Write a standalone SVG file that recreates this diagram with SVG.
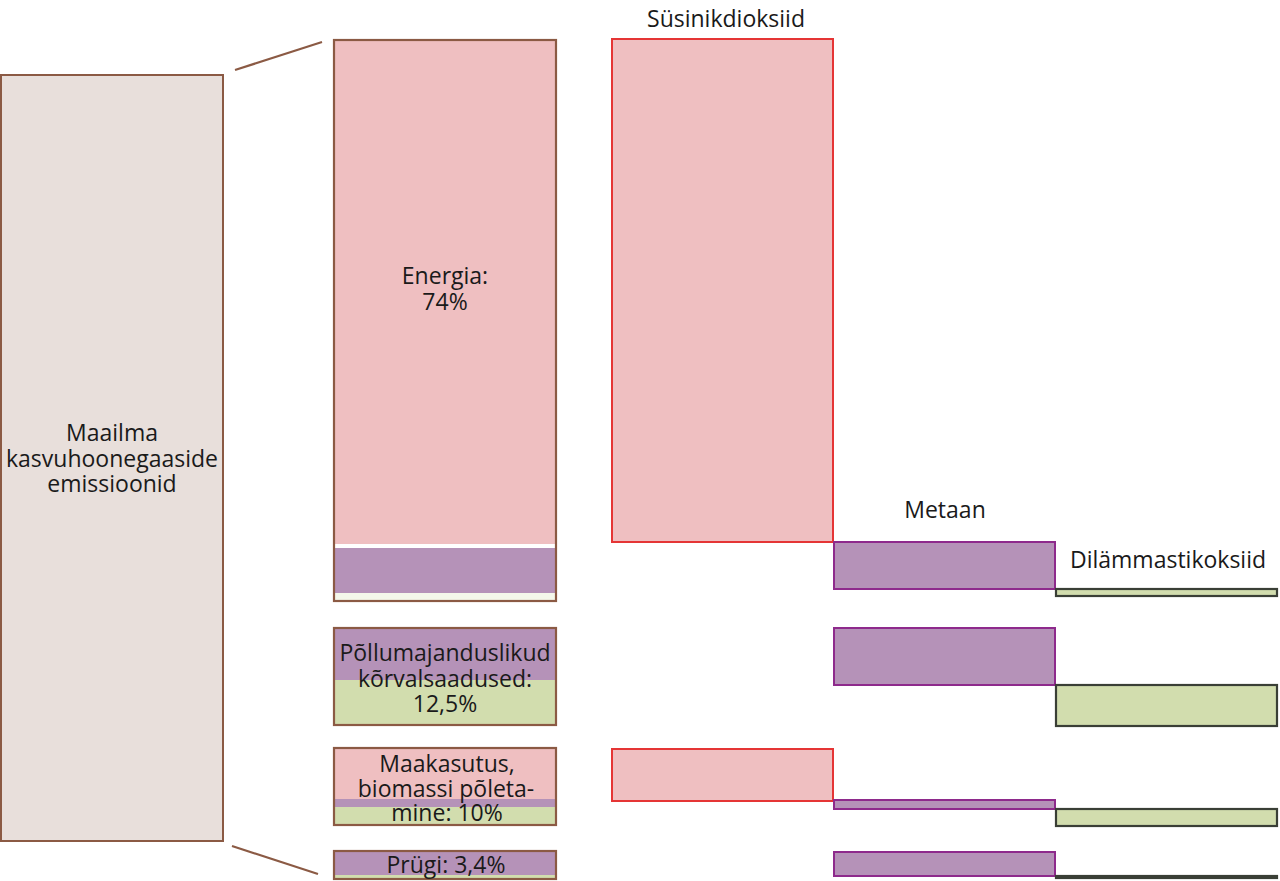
<svg xmlns="http://www.w3.org/2000/svg" width="1280" height="881" viewBox="0 0 1280 881">
<style>
text{font-family:"Open Sans","Liberation Sans",Arial,sans-serif;font-size:23px;fill:#1a1a1a;text-anchor:middle}
.src{fill:#e8dfdb;stroke:#8b5a44;stroke-width:2}
.cat{fill:none;stroke:#8b5a44;stroke-width:2.2}
.pink{fill:#efbfc1}
.purp{fill:#b592b8}
.grn{fill:#d2ddae}
.co2{fill:#efbfc1;stroke:#e53535;stroke-width:2}
.ch4{fill:#b592b8;stroke:#8e2a8c;stroke-width:2}
.n2o{fill:#d2ddae;stroke:#3a3f36;stroke-width:2.2}
.conn{stroke:#8b5a44;stroke-width:2.2;fill:none}
</style>
<rect width="1280" height="881" fill="#ffffff"/>
<g id="connectors">
<line class="conn" x1="235" y1="70" x2="322" y2="42"/>
<line class="conn" x1="232" y1="846" x2="318" y2="874"/>
</g>
<g id="world">
<rect class="src" x="1" y="75" width="222" height="766"/>
<text x="112" y="441">Maailma</text>
<text x="112" y="467">kasvuhoonegaaside</text>
<text x="112" y="492">emissioonid</text>
</g>
<g id="energia">
<rect class="pink" x="334" y="40" width="222" height="504"/>
<rect fill="#ffffff" x="334" y="544" width="222" height="4"/>
<rect class="purp" x="334" y="548" width="222" height="45"/>
<rect fill="#f4f7ea" x="334" y="593" width="222" height="8"/>
<rect class="cat" x="334" y="40" width="222" height="561"/>
<text x="445" y="284">Energia:</text>
<text x="445" y="310">74%</text>
</g>
<g id="pollumajandus">
<rect class="purp" x="334" y="628" width="222" height="52"/>
<rect class="grn" x="334" y="680" width="222" height="45"/>
<rect class="cat" x="334" y="628" width="222" height="97"/>
<text x="445" y="661">Põllumajanduslikud</text>
<text x="445" y="687">kõrvalsaadused:</text>
<text x="445" y="712">12,5%</text>
</g>
<g id="maakasutus">
<rect class="pink" x="334" y="748" width="222" height="51"/>
<rect class="purp" x="334" y="799" width="222" height="8"/>
<rect class="grn" x="334" y="807" width="222" height="18"/>
<rect class="cat" x="334" y="748" width="222" height="77"/>
<text x="447" y="772">Maakasutus,</text>
<text x="446" y="797">biomassi põleta-</text>
<text x="447" y="821">mine: 10%</text>
</g>
<g id="prugi">
<rect class="purp" x="334" y="851" width="222" height="24"/>
<rect class="grn" x="334" y="875" width="222" height="4"/>
<rect class="cat" x="334" y="851" width="222" height="28"/>
<text x="446" y="873">Prügi: 3,4%</text>
</g>
<g id="susinikdioksiid">
<text x="726" y="27">Süsinikdioksiid</text>
<rect class="co2" x="612" y="39" width="221" height="503"/>
<rect class="co2" x="612" y="749" width="221" height="52"/>
</g>
<g id="metaan">
<text x="945" y="518">Metaan</text>
<rect class="ch4" x="834" y="542" width="221" height="47"/>
<rect class="ch4" x="834" y="628" width="221" height="57"/>
<rect class="ch4" x="834" y="800" width="221" height="9"/>
<rect class="ch4" x="834" y="852" width="221" height="24"/>
</g>
<g id="dilammastikoksiid">
<text x="1168" y="568">Dilämmastikoksiid</text>
<rect class="n2o" x="1056" y="589" width="221" height="7"/>
<rect class="n2o" x="1056" y="685" width="221" height="41"/>
<rect class="n2o" x="1056" y="809" width="221" height="17"/>
<rect class="n2o" x="1056" y="876" width="221" height="2"/>
</g>
</svg>
